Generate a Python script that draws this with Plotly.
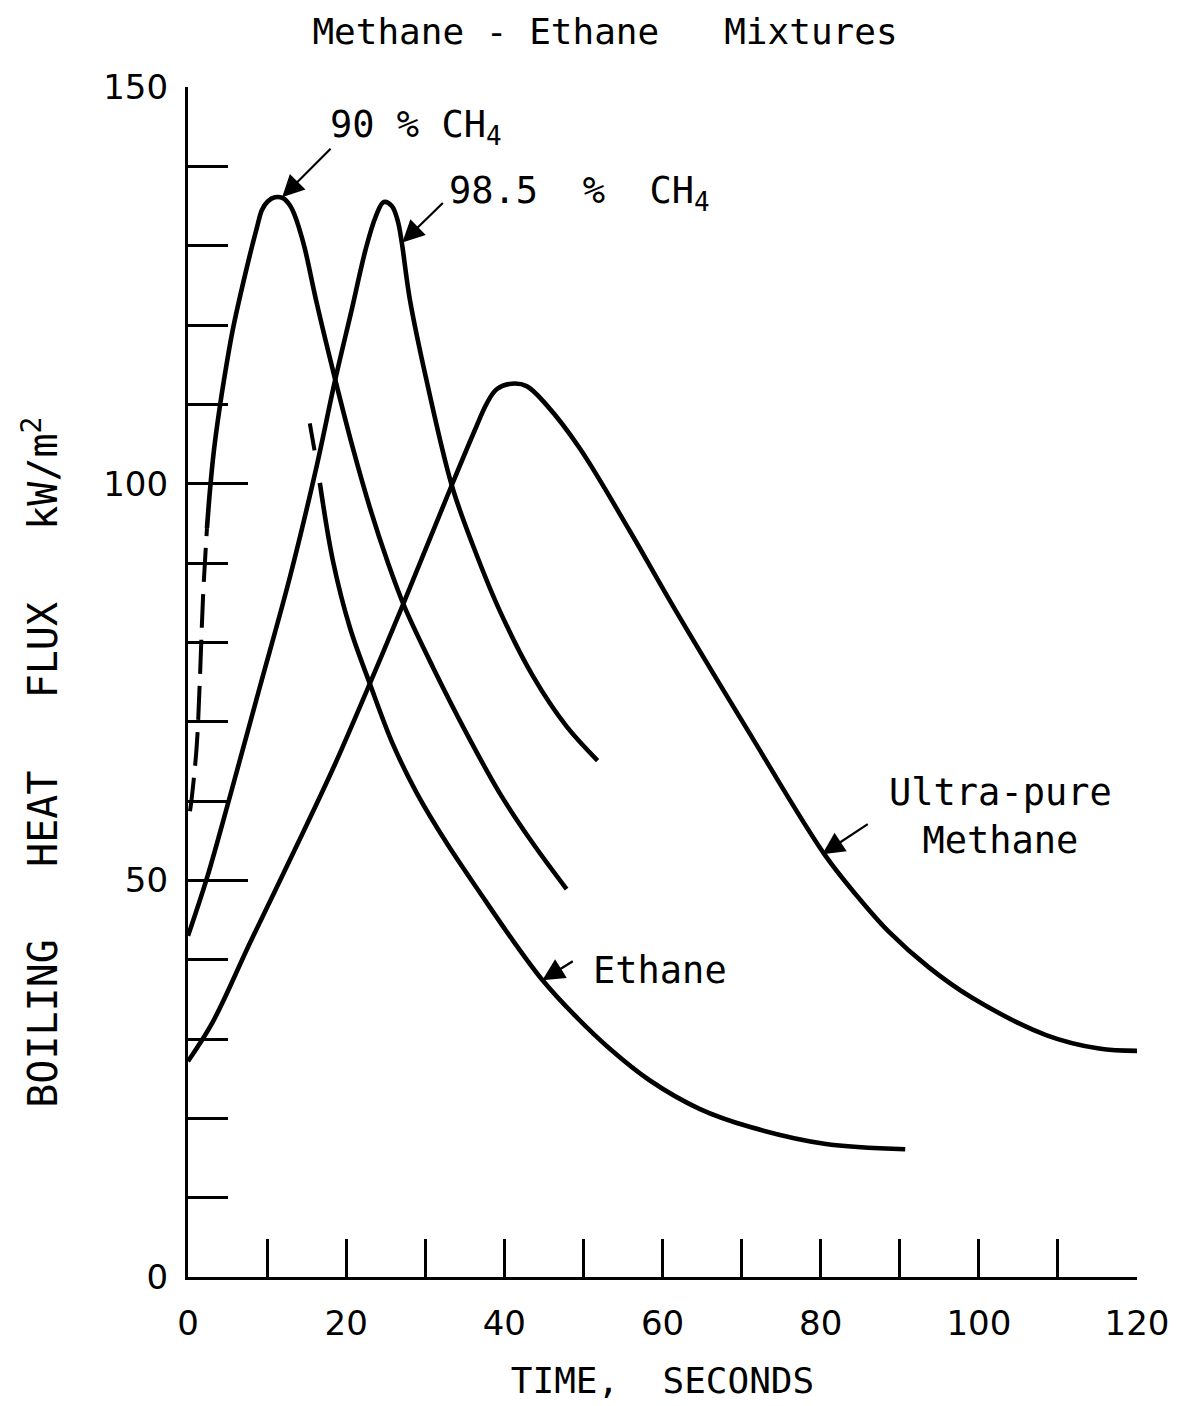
import plotly.graph_objects as go

# ---------------- data ----------------
# 90 % CH4 : dashed initial part and solid part
ch4_90_dash_t = [0.25, 0.5, 1.1, 1.5, 1.9, 2.4]
ch4_90_dash_v = [58.7, 60.6, 66.9, 75.3, 85.7, 94.4]
ch4_90_t = [2.40, 2.78, 3.28, 3.92, 4.67, 5.68, 7.45, 8.72, 9.35, 10.10, 10.99,
            12.0, 12.88, 13.51, 14.02, 14.78, 16.29, 18.57, 20.84, 22.99, 25.26,
            27.41, 30.95, 35.24, 39.41, 43.58, 47.87]
ch4_90_v = [94.4, 99.2, 104.2, 109.0, 113.8, 119.5, 127.3, 132.3, 134.5, 135.6,
            136.1, 136.0, 135.1, 133.8, 132.3, 129.6, 122.7, 113.3, 104.5, 97.0,
            90.1, 84.4, 76.9, 68.5, 61.0, 54.7, 48.9]

# 98.5 % CH4
ch4_985_t = [0.0, 2.40, 5.31, 9.09, 12.88, 16.29, 18.57, 20.72, 22.48, 23.75,
             24.76, 25.77, 26.53, 27.03, 28.04, 30.19, 33.35, 36.0, 39.41, 43.58,
             47.87, 51.79]
ch4_985_v = [43.0, 50.3, 60.6, 74.4, 88.2, 102.3, 112.9, 122.0, 129.6, 133.7,
             135.5, 135.0, 133.1, 130.4, 123.3, 112.9, 99.8, 92.3, 84.0, 75.8,
             69.4, 65.1]

# Ultra-pure methane
pure_t = [0.0, 3.16, 7.83, 14.15, 18.57, 22.99, 27.16, 33.35, 36.25, 37.77, 39.03,
          40.92, 42.82, 45.35, 49.51, 55.83, 61.26, 70.73, 80.46, 84.88, 88.54,
          93.72, 99.15, 108.5, 115.2, 120.0]
pure_v = [27.2, 32.2, 42.1, 55.2, 64.6, 74.8, 84.7, 99.8, 106.7, 110.1, 111.9,
          112.6, 112.3, 109.9, 104.5, 94.1, 84.7, 69.0, 53.3, 47.7, 43.6, 39.0,
          35.2, 30.5, 28.8, 28.5]

# Ethane
ethane_t = [16.67, 18.32, 20.46, 22.99, 25.89, 28.93, 32.71, 36.88, 40.67, 44.84,
            48.88, 53.30, 58.36, 64.67, 71.11, 80.46, 90.69]
ethane_v = [100.1, 90.3, 81.9, 74.8, 67.2, 61.0, 54.7, 48.5, 43.0, 37.4, 33.0,
            28.8, 24.8, 21.2, 18.9, 16.8, 16.1]
# short stroke just above the start of the ethane curve
ethane_mark_t = [15.4, 16.0]
ethane_mark_v = [107.6, 104.2]

x_ticks = [0, 20, 40, 60, 80, 100, 120]
y_ticks = [0, 50, 100, 150]

FONT = "DejaVu Sans"
MONO = "DejaVu Sans Mono"
NB = "\u00a0"

fig = go.Figure()


def add_curve(t, v, dash="solid", width=4.6, shape="spline"):
    fig.add_trace(go.Scatter(
        x=t, y=v, mode="lines",
        line=dict(color="black", width=width, shape=shape, smoothing=1.0, dash=dash),
        showlegend=False, hoverinfo="skip"))


add_curve(ch4_90_dash_t, ch4_90_dash_v, dash="34px,12px", width=4.0)
add_curve(ch4_90_t, ch4_90_v)
add_curve(ch4_985_t, ch4_985_v)
add_curve(pure_t, pure_v)
add_curve(ethane_t, ethane_v)
add_curve(ethane_mark_t, ethane_mark_v, width=4.0, shape="linear")

W, H = 1181, 1406
ML, MR, MT, MB = 188, 43, 87, 123
pw, ph = W - ML - MR, H - MT - MB

labels = [
    dict(text="90 % CH<sub>4</sub>", x=17.7, y=144.9, xanchor="left"),
    dict(text="98.5" + NB * 2 + "%" + NB * 2 + "CH<sub>4</sub>", x=32.8, y=136.6,
         xanchor="left"),
    dict(text="Ultra-pure<br>Methane", x=102.7, y=58.0, xanchor="center"),
    dict(text="Ethane", x=50.9, y=38.6, xanchor="left"),
]
annotations = []
for lb in labels:
    annotations.append(dict(text=lb["text"], x=lb["x"], y=lb["y"], xref="x", yref="y",
                            xanchor=lb["xanchor"], yanchor="middle", showarrow=False,
                            font=dict(family=MONO, size=37, color="black")))

arrows = [  # head (data), tail offset (px)
    (11.9, 136.1, 50, -50),
    (27.1, 130.4, 42, -41),
    (80.2, 53.3, 47, -31),
    (44.8, 37.4, 32, -20),
]
for hx, hy, ax, ay in arrows:
    annotations.append(dict(text="", x=hx, y=hy, xref="x", yref="y", ax=ax, ay=ay,
                            showarrow=True, arrowhead=2, arrowsize=2.0, arrowwidth=2.2,
                            arrowcolor="black", standoff=0))

annotations.append(dict(
    text="BOILING" + NB * 3 + "HEAT" + NB * 3 + "FLUX" + NB * 3 + "kW/m<sup>2</sup>",
    x=(40 - ML) / pw, y=(H - MB - 766) / ph, xref="paper", yref="paper",
    showarrow=False, textangle=-90, xanchor="center", yanchor="middle",
    font=dict(family=MONO, size=40, color="black")))

fig.update_layout(
    width=W, height=H,
    margin=dict(l=ML, r=MR, t=MT, b=MB),
    paper_bgcolor="white", plot_bgcolor="white",
    font=dict(family=FONT, color="black"),
    title=dict(text="Methane - Ethane" + NB * 3 + "Mixtures",
               x=605 / W, xref="container", xanchor="center",
               y=1 - 31 / H, yref="container", yanchor="middle",
               font=dict(family=MONO, size=36, color="black")),
    annotations=annotations,
    showlegend=False,
)

fig.update_xaxes(
    range=[0, 120], tickvals=x_ticks, ticktext=[str(v) for v in x_ticks],
    ticks="inside", ticklen=38, tickwidth=2.6, tickcolor="black",
    showline=True, linecolor="black", linewidth=3.2, showgrid=False, zeroline=False,
    tickfont=dict(family=FONT, size=34, color="black"), ticklabelstandoff=14,
    minor=dict(dtick=10, tick0=0, ticks="inside", ticklen=38, tickwidth=2.6,
               tickcolor="black", showgrid=False),
    title=dict(text="TIME," + NB * 2 + "SECONDS", standoff=26,
               font=dict(family=MONO, size=36, color="black")),
)
fig.update_yaxes(
    range=[0, 150], tickvals=y_ticks, ticktext=[str(v) for v in y_ticks],
    ticks="inside", ticklen=60, tickwidth=2.6, tickcolor="black",
    showline=True, linecolor="black", linewidth=3.2, showgrid=False, zeroline=False,
    tickfont=dict(family=FONT, size=34, color="black"), ticklabelstandoff=10,
    minor=dict(dtick=10, tick0=0, ticks="inside", ticklen=40, tickwidth=2.6,
               tickcolor="black", showgrid=False),
)

fig.write_html("out.html")
